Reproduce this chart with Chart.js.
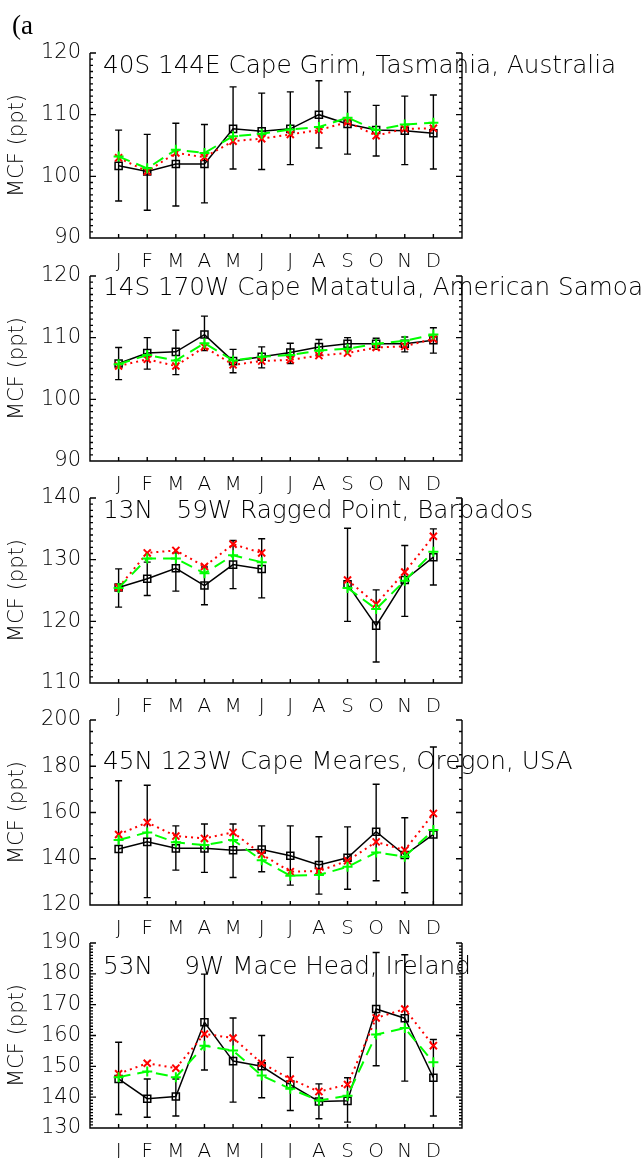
<!DOCTYPE html>
<html>
<head>
<meta charset="utf-8">
<script src="https://cdn.jsdelivr.net/npm/chart.js@4.4.1/dist/chart.umd.min.js"></script>
<style>
    html, body { margin: 0; padding: 0; background: #fff; }
    #wrap { position: relative; width: 641px; height: 1158px; overflow: hidden; }
    #wrap canvas { position: absolute; left: 0; }
    #tag { position: absolute; left: 12px; top: 12px; z-index: 5; font: 27px/1 "Liberation Serif", serif; color: #000; }
</style>
</head>
<body>
<div id="wrap">
    <canvas id="panel0" width="641" height="290"></canvas>
    <canvas id="panel1" width="641" height="290"></canvas>
    <canvas id="panel2" width="641" height="290"></canvas>
    <canvas id="panel3" width="641" height="290"></canvas>
    <canvas id="panel4" width="641" height="290"></canvas>
    <div id="tag">(a</div>
</div>
<script>
const months = ['J', 'F', 'M', 'A', 'M', 'J', 'J', 'A', 'S', 'O', 'N', 'D'];

// Cape Grim
const grimObs = [101.7, 100.8, 102.0, 102.0, 107.7, 107.3, 107.7, 110.0, 108.5, 107.5, 107.4, 107.0];
const grimHi = [107.5, 106.8, 108.6, 108.4, 114.5, 113.5, 113.7, 115.5, 113.7, 111.5, 113.0, 113.2];
const grimLo = [96.0, 94.5, 95.2, 95.7, 101.2, 101.1, 101.9, 104.6, 103.6, 103.3, 101.9, 101.2];
const grimRed = [103.0, 100.8, 103.8, 103.1, 105.7, 106.1, 106.8, 107.5, 108.8, 106.6, 107.7, 107.8];
const grimGreen = [103.2, 101.3, 104.3, 103.8, 106.5, 106.9, 107.6, 108.0, 109.5, 107.5, 108.4, 108.7];

// Cape Matatula
const samoaObs = [105.8, 107.5, 107.7, 110.5, 106.2, 106.9, 107.6, 108.5, 109.0, 109.0, 109.0, 109.6];
const samoaHi = [108.4, 110.0, 111.2, 113.5, 108.1, 108.5, 109.1, 109.7, 110.0, 109.9, 110.1, 111.6];
const samoaLo = [103.2, 104.9, 104.0, 107.9, 104.3, 105.1, 105.8, 107.2, 108.2, 108.1, 107.7, 107.5];
const samoaRed = [105.4, 106.5, 105.4, 108.5, 105.6, 106.2, 106.4, 107.1, 107.5, 108.4, 108.6, 109.8];
const samoaGreen = [105.7, 107.2, 106.3, 109.1, 106.3, 106.9, 107.2, 107.9, 108.2, 109.0, 109.5, 110.5];

// Ragged Point
const barbadosObs = [125.5, 126.9, 128.6, 125.8, 129.2, 128.5, null, null, 126.0, 119.3, 126.7, 130.4];
const barbadosHi = [128.5, 129.6, 131.1, 128.8, 133.1, 133.4, null, null, 135.1, 125.1, 132.3, 135.0];
const barbadosLo = [122.3, 124.2, 124.9, 122.7, 125.3, 123.8, null, null, 120.0, 113.4, 120.8, 125.9];
const barbadosRed = [125.5, 131.1, 131.5, 128.9, 132.5, 131.1, null, null, 126.7, 122.8, 128.0, 133.8];
const barbadosGreen = [125.4, 130.2, 130.2, 127.8, 130.7, 129.6, null, null, 125.4, 122.0, 126.6, 131.3];

// Cape Meares
const mearesObs = [144.2, 147.3, 144.5, 144.5, 143.7, 144.0, 141.3, 137.3, 140.4, 151.7, 141.6, 150.5];
const mearesHi = [173.7, 171.8, 154.2, 155.0, 155.0, 154.2, 154.2, 149.5, 153.8, 172.2, 157.7, 188.3];
const mearesLo = [115.0, 123.2, 135.1, 134.1, 131.9, 134.4, 128.6, 124.7, 126.8, 130.5, 125.3, 112.0];
const mearesRed = [150.5, 155.7, 149.8, 148.8, 151.4, 141.9, 134.4, 134.7, 139.1, 147.3, 143.7, 159.6];
const mearesGreen = [148.1, 151.4, 147.1, 145.9, 148.1, 139.4, 132.7, 133.0, 136.5, 142.7, 140.9, 152.4];

// Mace Head
const maceObs = [145.9, 139.5, 140.2, 164.3, 151.7, 150.0, 144.1, 138.6, 138.8, 168.6, 165.6, 146.3];
const maceHi = [157.8, 145.9, 145.9, 179.9, 165.7, 160.0, 152.9, 144.3, 146.3, 186.9, 186.2, 158.7];
const maceLo = [134.4, 133.5, 133.9, 148.8, 138.4, 139.8, 135.7, 133.0, 131.9, 150.2, 145.2, 133.9];
const maceRed = [147.6, 151.0, 149.4, 160.5, 159.2, 151.0, 145.9, 141.8, 144.1, 165.7, 168.6, 156.7];
const maceGreen = [146.5, 148.3, 146.5, 156.7, 155.1, 147.0, 142.7, 138.9, 140.5, 160.3, 162.4, 151.3];

const panels = [
    { title: '40S 144E Cape Grim, Tasmania, Australia', yMin: 90, yMax: 120, major: 10, minor: 1,
      obs: grimObs, hi: grimHi, lo: grimLo, red: grimRed, green: grimGreen, titleDy: 14 },
    { title: '14S 170W Cape Matatula, American Samoa', yMin: 90, yMax: 120, major: 10, minor: 1,
      obs: samoaObs, hi: samoaHi, lo: samoaLo, red: samoaRed, green: samoaGreen, titleDy: 13 },
    { title: '13N   59W Ragged Point, Barbados', yMin: 110, yMax: 140, major: 10, minor: 1,
      obs: barbadosObs, hi: barbadosHi, lo: barbadosLo, red: barbadosRed, green: barbadosGreen, titleDy: 14 },
    { title: '45N 123W Cape Meares, Oregon, USA', yMin: 120, yMax: 200, major: 20, minor: 5,
      obs: mearesObs, hi: mearesHi, lo: mearesLo, red: mearesRed, green: mearesGreen, titleDy: 43 },
    { title: '53N    9W Mace Head, Ireland', yMin: 130, yMax: 190, major: 10, minor: 1,
      obs: maceObs, hi: maceHi, lo: maceLo, red: maceRed, green: maceGreen, titleDy: 25 },
];

const panelTops = [53, 275.5, 498, 720, 943];
const plotTopPad = 53;

Chart.defaults.font.family = '"DejaVu Sans", sans-serif';
Chart.defaults.font.weight = 200;
Chart.defaults.color = '#000';

function points(values) {
    return values.map((v, i) => ({ x: i, y: v }));
}

// frame, inward ticks, error bars and the station label
const idlFrame = {
    id: 'idlFrame',
    beforeDatasetsDraw(chart, args, opts) {
        const { ctx, chartArea: a, scales } = chart;
        const p = opts.panel;
        ctx.save();
        ctx.beginPath();
        ctx.rect(a.left, a.top, a.right - a.left, a.bottom - a.top);
        ctx.clip();
        ctx.strokeStyle = '#000';
        ctx.lineWidth = 1.4;
        p.obs.forEach((v, i) => {
            if (v === null) return;
            const x = scales.x.getPixelForValue(i);
            const yh = scales.y.getPixelForValue(p.hi[i]);
            const yl = scales.y.getPixelForValue(p.lo[i]);
            ctx.beginPath();
            ctx.moveTo(x, yh);
            ctx.lineTo(x, yl);
            ctx.moveTo(x - 3.5, yh);
            ctx.lineTo(x + 3.5, yh);
            ctx.moveTo(x - 3.5, yl);
            ctx.lineTo(x + 3.5, yl);
            ctx.stroke();
        });
        ctx.restore();
    },
    afterDraw(chart, args, opts) {
        const { ctx, chartArea: a, scales } = chart;
        const p = opts.panel;
        ctx.save();
        ctx.strokeStyle = '#000';
        ctx.lineWidth = 1.4;
        ctx.beginPath();
        ctx.moveTo(a.left, a.top);
        ctx.lineTo(a.left, a.bottom);
        ctx.lineTo(a.right, a.bottom);
        ctx.lineTo(a.right, a.top);
        for (let v = p.yMin; v <= p.yMax + 1e-6; v += p.minor) {
            const y = scales.y.getPixelForValue(v);
            const len = Math.abs(v % p.major) < 1e-6 ? 6 : 3;
            ctx.moveTo(a.left, y);
            ctx.lineTo(a.left + len, y);
            ctx.moveTo(a.right, y);
            ctx.lineTo(a.right - len, y);
        }
        months.forEach((m, i) => {
            const x = scales.x.getPixelForValue(i);
            ctx.moveTo(x, a.bottom);
            ctx.lineTo(x, a.bottom - 4);
        });
        ctx.stroke();

        ctx.fillStyle = '#000';
        ctx.font = '200 24.7px "DejaVu Sans", sans-serif';
        ctx.textBaseline = 'middle';
        ctx.textAlign = 'left';
        ctx.fillText(p.title, a.left + 13, a.top + p.titleDy);
        ctx.restore();
    },
};

panels.forEach((p, k) => {
    const canvas = document.getElementById('panel' + k);
    canvas.style.top = (panelTops[k] - plotTopPad) + 'px';
    new Chart(canvas, {
        type: 'line',
        data: {
            datasets: [
                {
                    data: points(p.green),
                    borderColor: '#00ff00',
                    borderWidth: 2,
                    borderDash: [12, 7],
                    pointStyle: 'cross',
                    pointRadius: 5,
                    pointBorderWidth: 2,
                    pointBorderColor: '#00ff00',
                    fill: false,
                },
                {
                    data: points(p.red),
                    borderColor: '#ff0000',
                    borderWidth: 2,
                    borderDash: [2, 4],
                    pointStyle: 'crossRot',
                    pointRadius: 5,
                    pointBorderWidth: 2,
                    pointBorderColor: '#ff0000',
                    fill: false,
                },
                {
                    data: points(p.obs),
                    borderColor: '#000',
                    borderWidth: 1.5,
                    pointStyle: 'rect',
                    pointRadius: 5,
                    pointBorderWidth: 1.5,
                    pointBorderColor: '#000',
                    pointBackgroundColor: 'rgba(0,0,0,0)',
                    fill: false,
                },
            ],
        },
        options: {
            responsive: false,
            animation: false,
            spanGaps: false,
            layout: { padding: { top: plotTopPad, left: 0, right: 179, bottom: 12 } },
            scales: {
                x: {
                    type: 'linear',
                    min: -1,
                    max: 12,
                    grid: { display: false },
                    border: { display: false },
                    ticks: {
                        stepSize: 1,
                        autoSkip: false,
                        maxRotation: 0,
                        padding: 4,
                        font: { size: 20 },
                        callback: (v) => months[v] ?? '',
                    },
                    afterFit(scale) { scale.height = 40; },
                },
                y: {
                    min: p.yMin,
                    max: p.yMax,
                    grid: { display: false, drawTicks: false },
                    border: { display: false },
                    ticks: { stepSize: p.major, padding: 9, font: { size: 21 } },
                    title: {
                        display: true,
                        text: 'MCF (ppt)',
                        font: { size: 21 },
                        padding: { top: 5, bottom: 0 },
                    },
                    afterFit(scale) { scale.width = 90; },
                },
            },
            plugins: {
                legend: { display: false },
                tooltip: { enabled: false },
                idlFrame: { panel: p },
            },
        },
        plugins: [idlFrame],
    });
});
</script>
</body>
</html>
